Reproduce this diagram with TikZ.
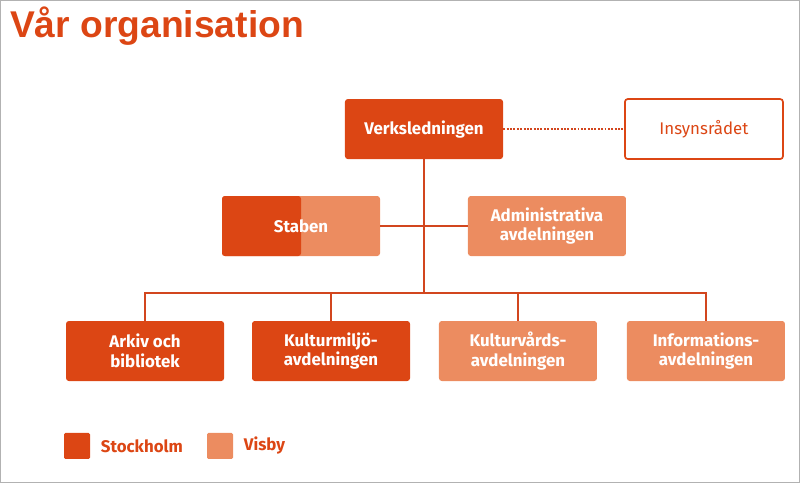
\documentclass[tikz,border=0pt]{standalone}
\usepackage{fontspec}
\setmainfont{Fira Sans}
\newfontfamily\titlefont{Liberation Sans}
\usetikzlibrary{positioning}
\definecolor{darkorg}{HTML}{DC4614}
\definecolor{lightorg}{HTML}{EC8C60}
\definecolor{lineorg}{HTML}{D2461E}

\begin{document}
\begin{tikzpicture}[x=0.025cm,y=-0.025cm]
    \tikzstyle{box} = [rectangle, rounded corners=2pt, minimum width=3.95cm, minimum height=1.5cm, align=center, text=white, font=\fontsize{12}{14}\selectfont\bfseries]
    \tikzstyle{sthlm} = [box, fill=darkorg]
    \tikzstyle{visby} = [box, fill=lightorg]
    \tikzstyle{conn} = [draw=lineorg, line width=1.4pt]
    \tikzstyle{legbox} = [rectangle, rounded corners=1pt, minimum size=0.65cm, inner sep=0pt]

    \draw[gray!60, line width=0.8pt] (0.5,0.5) rectangle (799.5,482.5);

    \node[anchor=west, text=darkorg, font=\titlefont\fontsize{26.5}{30}\selectfont\bfseries] (title) at (5,26) {Vår organisation};

    \node[sthlm] (vl) at (424,129) {Verksledningen};
    \node[box, fill=white, draw=darkorg, line width=1.2pt, text=darkorg, font=\fontsize{12}{14}\selectfont] (ins) at (704,129) {Insynsrådet};

    \node[visby, path picture={\fill[darkorg] (path picture bounding box.south west) rectangle (path picture bounding box.north);}] (stab) at (301,226) {Staben};
    \node[visby] (adm) at (547,226) {Administrativa\\avdelningen};

    \node[sthlm] (ark) at (145,351) {Arkiv och\\bibliotek};
    \node[sthlm] (kmi) at (331,351) {Kulturmiljö-\\avdelningen};
    \node[visby] (kva) at (518,351) {Kulturvårds-\\avdelningen};
    \node[visby] (inf) at (706,351) {Informations-\\avdelningen};

    \coordinate (bus) at (424,293);
    \draw[conn, densely dotted, line width=1.8pt] (vl) -- (ins);
    \draw[conn] (vl) -- (bus);
    \draw[conn] (stab) -- (adm);
    \draw[conn] (ark.north) |- (bus) -| (inf.north);
    \draw[conn] (kmi.north) -- (kmi.north |- bus);
    \draw[conn] (kva.north) -- (kva.north |- bus);

    \node[legbox, fill=darkorg] (leg1) at (77,446) {};
    \node[right=4pt of leg1, text=darkorg, font=\fontsize{12}{14}\selectfont\bfseries] (leg1t) {Stockholm};
    \node[legbox, fill=lightorg] (leg2) at (220,446) {};
    \node[right=4pt of leg2, text=darkorg, font=\fontsize{12}{14}\selectfont\bfseries] (leg2t) {Visby};
\end{tikzpicture}
\end{document}
